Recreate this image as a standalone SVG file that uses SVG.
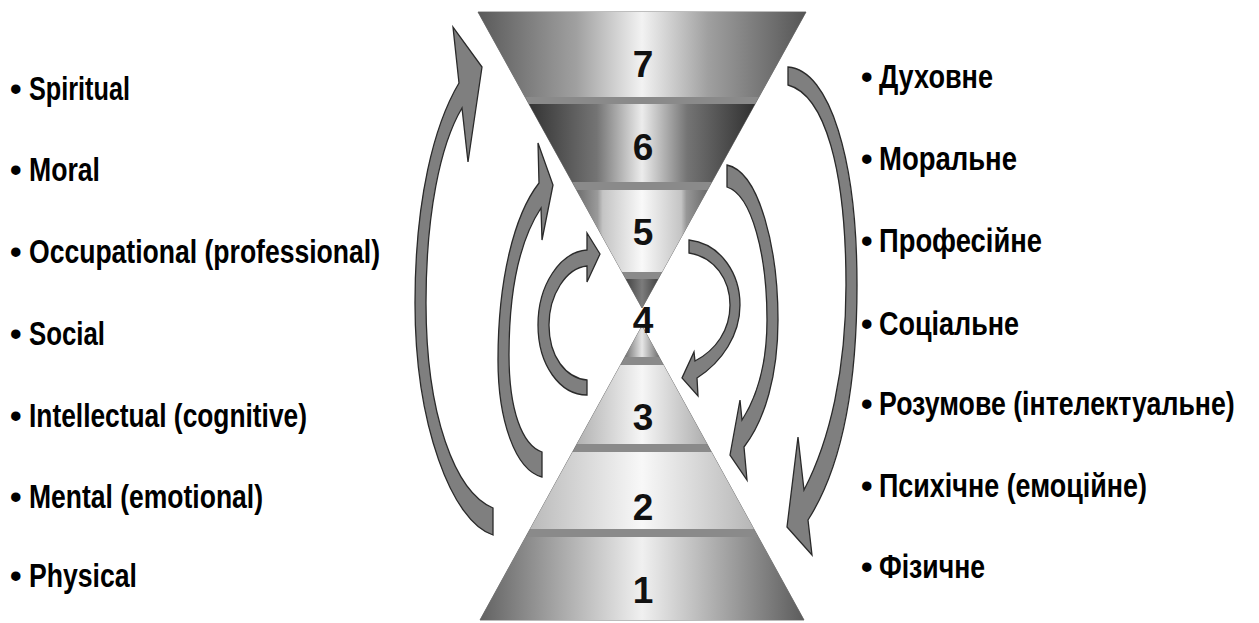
<svg xmlns="http://www.w3.org/2000/svg" width="1259" height="623" viewBox="0 0 1259 623">
  <style>
    .lbl { font-family: "Liberation Sans Narrow", "Liberation Sans", Arial, sans-serif; font-weight: bold; font-size: 33px; fill: #000; }
    .num { font-family: "Liberation Sans", Arial, sans-serif; font-weight: bold; font-size: 37px; fill: #111; text-anchor: middle; }
    .sep { fill: #8a8a8a; stroke: #7a7a7a; stroke-width: 1; }
    .arrow { fill: #7f7f7f; stroke: #2a2a2a; stroke-width: 1.3; stroke-linejoin: miter; }
  </style>
  <defs>
    <linearGradient id="g7" x1="0" y1="0" x2="1" y2="0">
      <stop offset="0" stop-color="#5a5a5a"/>
      <stop offset="0.3" stop-color="#a0a0a0"/>
      <stop offset="0.5" stop-color="#f2f2f2"/>
      <stop offset="0.7" stop-color="#a0a0a0"/>
      <stop offset="1" stop-color="#555"/>
    </linearGradient>
    <linearGradient id="g6" x1="0" y1="0" x2="1" y2="0">
      <stop offset="0" stop-color="#343434"/>
      <stop offset="0.3" stop-color="#747474"/>
      <stop offset="0.5" stop-color="#ececec"/>
      <stop offset="0.7" stop-color="#747474"/>
      <stop offset="1" stop-color="#303030"/>
    </linearGradient>
    <linearGradient id="g5" x1="0" y1="0" x2="1" y2="0">
      <stop offset="0" stop-color="#6e6e6e"/>
      <stop offset="0.16" stop-color="#9a9a9a"/>
      <stop offset="0.2" stop-color="#c4c4c4"/>
      <stop offset="0.5" stop-color="#f9f9f9"/>
      <stop offset="0.8" stop-color="#c4c4c4"/>
      <stop offset="0.84" stop-color="#979797"/>
      <stop offset="1" stop-color="#6a6a6a"/>
    </linearGradient>
    <linearGradient id="g4t" x1="0" y1="0" x2="1" y2="0">
      <stop offset="0" stop-color="#444"/>
      <stop offset="0.5" stop-color="#7c7c7c"/>
      <stop offset="1" stop-color="#444"/>
    </linearGradient>
    <linearGradient id="g4b" x1="0" y1="0" x2="1" y2="0">
      <stop offset="0" stop-color="#707070"/>
      <stop offset="0.5" stop-color="#e6e6e6"/>
      <stop offset="1" stop-color="#707070"/>
    </linearGradient>
    <linearGradient id="g3" x1="0" y1="0" x2="1" y2="0">
      <stop offset="0" stop-color="#b2b2b2"/>
      <stop offset="0.5" stop-color="#f6f6f6"/>
      <stop offset="1" stop-color="#adadad"/>
    </linearGradient>
    <linearGradient id="g2" x1="0" y1="0" x2="1" y2="0">
      <stop offset="0" stop-color="#bababa"/>
      <stop offset="0.5" stop-color="#f8f8f8"/>
      <stop offset="1" stop-color="#b6b6b6"/>
    </linearGradient>
    <linearGradient id="g1" x1="0" y1="0" x2="1" y2="0">
      <stop offset="0" stop-color="#626262"/>
      <stop offset="0.5" stop-color="#f0f0f0"/>
      <stop offset="1" stop-color="#5c5c5c"/>
    </linearGradient>
  </defs>

  <rect width="1259" height="623" fill="#fff"/>

  <!-- upper (inverted) cone -->
  <g id="cone-top">
    <polygon class="sep" points="478,12 806,12 642,308"/>
    <g id="level-7">
      <polygon points="478,12 806,12 758.9,97 525.1,97" fill="url(#g7)"/>
      <text class="num" x="643" y="77">7</text>
    </g>
    <g id="level-6">
      <polygon points="529,104 755,104 711.8,182 572.2,182" fill="url(#g6)"/>
      <text class="num" x="643" y="160">6</text>
    </g>
    <g id="level-5">
      <polygon points="576.6,190 707.4,190 662,272 622,272" fill="url(#g5)"/>
      <text class="num" x="643" y="245">5</text>
    </g>
    <polygon points="625.9,279 658.1,279 642,308" fill="url(#g4t)"/>
  </g>

  <!-- lower cone -->
  <g id="cone-bottom">
    <polygon class="sep" points="642,326 804,620 480,620"/>
    <polygon points="642,326 659.1,357 624.9,357" fill="url(#g4b)"/>
    <g id="level-3">
      <polygon points="620.5,365 663.5,365 707,444 577,444" fill="url(#g3)"/>
      <text class="num" x="643" y="430">3</text>
    </g>
    <g id="level-2">
      <polygon points="572.6,452 711.4,452 753.9,529 530.1,529" fill="url(#g2)"/>
      <text class="num" x="643" y="520">2</text>
    </g>
    <g id="level-1">
      <polygon points="525.7,537 758.3,537 804,620 480,620" fill="url(#g1)"/>
      <text class="num" x="643" y="603">1</text>
    </g>
  </g>

  <g id="level-4">
    <text class="num" x="643" y="333">4</text>
  </g>

  <!-- curved block arrows -->
  <g id="connectors">
    <path class="arrow" d="M 493 535 C 452 522, 415 425, 415 303 C 415 200, 434 125, 459 83 L 453 27 L 482 67 L 468 162 L 462 108 C 440 145, 426 215, 426 303 C 426 415, 455 492, 493 508 Z"/>
    <path class="arrow" d="M 542 477 C 515 470, 498 420, 498 360 C 498 280, 514 215, 539 183 L 538 143 L 553 185 L 542 240 L 541 208 C 520 240, 509 290, 509 355 C 509 410, 522 445, 542 452 Z"/>
    <path class="arrow" d="M 587 395 C 560 395, 538 365, 538 325 C 538 285, 560 252, 587 250 L 587 233 L 600 254 L 587 282 L 587 266 C 566 268, 549 295, 549 325 C 549 357, 566 378, 587 380 Z"/>
    <path class="arrow" d="M 788 67 C 830 70, 857 160, 857 285 C 857 390, 840 470, 808 520 L 812 555 L 787 527 L 798 437 L 804 490 C 830 440, 846 370, 846 285 C 846 170, 825 95, 788 85 Z"/>
    <path class="arrow" d="M 727 165 C 760 172, 778 250, 778 320 C 778 375, 765 420, 744 447 L 747 480 L 730 455 L 740 400 L 742 420 C 758 395, 767 360, 767 320 C 767 255, 752 195, 727 187 Z"/>
    <path class="arrow" d="M 689 240 C 722 244, 740 275, 740 305 C 740 335, 722 362, 697 378 L 698 396 L 682 378 L 694 352 L 695 361 C 716 350, 730 330, 730 305 C 730 280, 715 257, 689 253 Z"/>
  </g>

  <!-- English list -->
  <g id="list-en">
    <text class="lbl" y="100"><tspan x="10">•</tspan><tspan x="29" textLength="101" lengthAdjust="spacingAndGlyphs">Spiritual</tspan></text>
    <text class="lbl" y="181"><tspan x="10">•</tspan><tspan x="29" textLength="71" lengthAdjust="spacingAndGlyphs">Moral</tspan></text>
    <text class="lbl" y="263"><tspan x="10">•</tspan><tspan x="29" textLength="351" lengthAdjust="spacingAndGlyphs">Occupational (professional)</tspan></text>
    <text class="lbl" y="345"><tspan x="10">•</tspan><tspan x="29" textLength="76" lengthAdjust="spacingAndGlyphs">Social</tspan></text>
    <text class="lbl" y="427"><tspan x="10">•</tspan><tspan x="29" textLength="278" lengthAdjust="spacingAndGlyphs">Intellectual  (cognitive)</tspan></text>
    <text class="lbl" y="508"><tspan x="10">•</tspan><tspan x="29" textLength="234" lengthAdjust="spacingAndGlyphs">Mental (emotional)</tspan></text>
    <text class="lbl" y="587"><tspan x="10">•</tspan><tspan x="29" textLength="108" lengthAdjust="spacingAndGlyphs">Physical</tspan></text>
  </g>

  <!-- Ukrainian list -->
  <g id="list-uk">
    <text class="lbl" y="88"><tspan x="861">•</tspan><tspan x="879" textLength="114" lengthAdjust="spacingAndGlyphs">Духовне</tspan></text>
    <text class="lbl" y="170"><tspan x="861">•</tspan><tspan x="879" textLength="138" lengthAdjust="spacingAndGlyphs">Моральне</tspan></text>
    <text class="lbl" y="252"><tspan x="861">•</tspan><tspan x="879" textLength="163" lengthAdjust="spacingAndGlyphs">Професійне</tspan></text>
    <text class="lbl" y="335"><tspan x="861">•</tspan><tspan x="879" textLength="140" lengthAdjust="spacingAndGlyphs">Соціальне</tspan></text>
    <g>
      <text class="lbl" x="861" y="415">•</text>
      <text class="lbl" transform="translate(879,415) scale(0.78,1)" x="0" y="0" textLength="456" lengthAdjust="spacingAndGlyphs">Розумове (інтелектуальне)</text>
    </g>
    <text class="lbl" y="497"><tspan x="861">•</tspan><tspan x="879" textLength="268" lengthAdjust="spacingAndGlyphs">Психічне (емоційне)</tspan></text>
    <text class="lbl" y="578"><tspan x="861">•</tspan><tspan x="879" textLength="106" lengthAdjust="spacingAndGlyphs">Фізичне</tspan></text>
  </g>
</svg>
